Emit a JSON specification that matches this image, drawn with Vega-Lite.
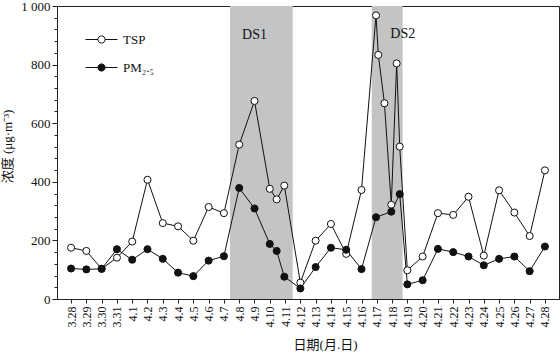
{
  "$schema": "https://vega.github.io/schema/vega-lite/v6.json",
  "width": 502,
  "height": 293,
  "autosize": {"type": "none"},
  "padding": {"left": 57, "top": 6, "right": 1, "bottom": 55},
  "background": "white",
  "config": {
    "font": "Liberation Serif",
    "view": {"stroke": "#222", "strokeWidth": 1},
    "axis": {
      "domainColor": "#222",
      "tickColor": "#222",
      "labelColor": "#111",
      "titleColor": "#111",
      "grid": false,
      "labelOverlap": false,
      "labelFont": "Liberation Serif",
      "titleFont": "Liberation Serif, Noto Sans CJK SC",
      "titleFontWeight": "normal"
    },
    "legend": {"labelFont": "Liberation Serif, DejaVu Serif"}
  },
  "data": {"values": [
      {"day": 0, "value": 175, "series": "TSP"},
      {"day": 1, "value": 164, "series": "TSP"},
      {"day": 2, "value": 103, "series": "TSP"},
      {"day": 3, "value": 141, "series": "TSP"},
      {"day": 4, "value": 196, "series": "TSP"},
      {"day": 5, "value": 407, "series": "TSP"},
      {"day": 6, "value": 259, "series": "TSP"},
      {"day": 7, "value": 248, "series": "TSP"},
      {"day": 8, "value": 199, "series": "TSP"},
      {"day": 9, "value": 314, "series": "TSP"},
      {"day": 10, "value": 293, "series": "TSP"},
      {"day": 11, "value": 527, "series": "TSP"},
      {"day": 12, "value": 676, "series": "TSP"},
      {"day": 13, "value": 376, "series": "TSP"},
      {"day": 13.45, "value": 340, "series": "TSP"},
      {"day": 13.95, "value": 387, "series": "TSP"},
      {"day": 15, "value": 56, "series": "TSP"},
      {"day": 16, "value": 199, "series": "TSP"},
      {"day": 17, "value": 256, "series": "TSP"},
      {"day": 18, "value": 154, "series": "TSP"},
      {"day": 19, "value": 372, "series": "TSP"},
      {"day": 19.95, "value": 968, "series": "TSP"},
      {"day": 20.1, "value": 833, "series": "TSP"},
      {"day": 20.5, "value": 668, "series": "TSP"},
      {"day": 20.95, "value": 322, "series": "TSP"},
      {"day": 21.3, "value": 804, "series": "TSP"},
      {"day": 21.5, "value": 520, "series": "TSP"},
      {"day": 22, "value": 98, "series": "TSP"},
      {"day": 23, "value": 145, "series": "TSP"},
      {"day": 24, "value": 293, "series": "TSP"},
      {"day": 25, "value": 287, "series": "TSP"},
      {"day": 26, "value": 349, "series": "TSP"},
      {"day": 27, "value": 148, "series": "TSP"},
      {"day": 28, "value": 371, "series": "TSP"},
      {"day": 29, "value": 295, "series": "TSP"},
      {"day": 30, "value": 215, "series": "TSP"},
      {"day": 31, "value": 439, "series": "TSP"},
      {"day": 0, "value": 104, "series": "PM2.5"},
      {"day": 1, "value": 101, "series": "PM2.5"},
      {"day": 2, "value": 103, "series": "PM2.5"},
      {"day": 3, "value": 170, "series": "PM2.5"},
      {"day": 4, "value": 134, "series": "PM2.5"},
      {"day": 5, "value": 170, "series": "PM2.5"},
      {"day": 6, "value": 137, "series": "PM2.5"},
      {"day": 7, "value": 90, "series": "PM2.5"},
      {"day": 8, "value": 78, "series": "PM2.5"},
      {"day": 9, "value": 131, "series": "PM2.5"},
      {"day": 10, "value": 146, "series": "PM2.5"},
      {"day": 11, "value": 379, "series": "PM2.5"},
      {"day": 12, "value": 309, "series": "PM2.5"},
      {"day": 13, "value": 188, "series": "PM2.5"},
      {"day": 13.45, "value": 164, "series": "PM2.5"},
      {"day": 13.95, "value": 76, "series": "PM2.5"},
      {"day": 15, "value": 36, "series": "PM2.5"},
      {"day": 16, "value": 109, "series": "PM2.5"},
      {"day": 17, "value": 175, "series": "PM2.5"},
      {"day": 18, "value": 168, "series": "PM2.5"},
      {"day": 19, "value": 102, "series": "PM2.5"},
      {"day": 19.95, "value": 279, "series": "PM2.5"},
      {"day": 20.95, "value": 298, "series": "PM2.5"},
      {"day": 21.5, "value": 358, "series": "PM2.5"},
      {"day": 22, "value": 50, "series": "PM2.5"},
      {"day": 23, "value": 64, "series": "PM2.5"},
      {"day": 24, "value": 171, "series": "PM2.5"},
      {"day": 25, "value": 160, "series": "PM2.5"},
      {"day": 26, "value": 145, "series": "PM2.5"},
      {"day": 27, "value": 115, "series": "PM2.5"},
      {"day": 28, "value": 137, "series": "PM2.5"},
      {"day": 29, "value": 145, "series": "PM2.5"},
      {"day": 30, "value": 95, "series": "PM2.5"},
      {"day": 31, "value": 179, "series": "PM2.5"}
  ]},
  "encoding": {
    "x": {
      "field": "day",
      "type": "quantitative",
      "scale": {"domain": [-0.92, 31.92], "nice": false, "zero": false},
      "axis": {
        "values": [0,1,2,3,4,5,6,7,8,9,10,11,12,13,14,15,16,17,18,19,20,21,22,23,24,25,26,27,28,29,30,31],
        "labelExpr": "datum.value < 4 ? '3.' + (28 + datum.value) : '4.' + (datum.value - 3)",
        "labelAngle": -90,
        "labelFontSize": 12,
        "labelOverlap": false,
        "labelFlush": false,
        "tickSize": 4,
        "labelPadding": 3,
        "title": "日期(月.日)",
        "titleFontSize": 13,
        "titleX": 268,
        "titleY": 45,
        "titleAlign": "center",
        "titleBaseline": "middle"
      }
    }
  },
  "layer": [
    {
      "data": {"values": [
        {"name": "DS1", "start": 10.4, "end": 14.5, "lx": 12.0, "ly": 900},
        {"name": "DS2", "start": 19.67, "end": 21.69, "lx": 21.7, "ly": 903}
      ]},
      "mark": {"type": "rect", "color": "#c4c4c4"},
      "encoding": {
        "x": {"field": "start", "type": "quantitative"},
        "x2": {"field": "end"}
      }
    },
    {
      "data": {"values": [
        {"name": "DS1", "start": 10.4, "end": 14.5, "lx": 12.0, "ly": 900},
        {"name": "DS2", "start": 19.67, "end": 21.69, "lx": 21.7, "ly": 903}
      ]},
      "mark": {"type": "text", "font": "Liberation Serif", "fontSize": 14, "color": "#111"},
      "encoding": {
        "x": {"field": "lx", "type": "quantitative"},
        "y": {
          "field": "ly",
          "type": "quantitative",
          "scale": {"domain": [0, 1000], "nice": false},
          "axis": {
            "values": [0,40,80,120,160,200,240,280,320,360,400,440,480,520,560,600,640,680,720,760,800,840,880,920,960,1000],
            "labelExpr": "datum.value % 200 === 0 ? (datum.value === 1000 ? '1 000' : datum.label) : ''",
            "labelFontSize": 13,
            "labelOverlap": false,
            "tickSize": {"condition": {"test": "datum.value % 200 === 0", "value": 5}, "value": 3},
            "labelPadding": 2,
            "title": "浓度 (μg·m⁻³)",
            "titleFontSize": 13,
            "titleAngle": 270,
            "titleX": -50,
            "titleY": 140,
            "titleAlign": "center",
            "titleBaseline": "middle"
          }
        },
        "text": {"field": "name"}
      }
    },
    {
      "mark": {"type": "line", "color": "#111", "strokeWidth": 1},
      "encoding": {
        "y": {
          "field": "value",
          "type": "quantitative",
          "scale": {"domain": [0, 1000], "nice": false},
          "axis": {
            "values": [0,40,80,120,160,200,240,280,320,360,400,440,480,520,560,600,640,680,720,760,800,840,880,920,960,1000],
            "labelExpr": "datum.value % 200 === 0 ? (datum.value === 1000 ? '1 000' : datum.label) : ''",
            "labelFontSize": 13,
            "labelOverlap": false,
            "tickSize": {"condition": {"test": "datum.value % 200 === 0", "value": 5}, "value": 3},
            "labelPadding": 2,
            "title": "浓度 (μg·m⁻³)",
            "titleFontSize": 13,
            "titleAngle": 270,
            "titleX": -50,
            "titleY": 140,
            "titleAlign": "center",
            "titleBaseline": "middle"
          }
        },
        "detail": {"field": "series"}
      }
    },
    {
      "mark": {"type": "point", "shape": "circle", "filled": true, "stroke": "#111", "strokeWidth": 1, "size": 50, "opacity": 1},
      "encoding": {
        "y": {
          "field": "value",
          "type": "quantitative",
          "scale": {"domain": [0, 1000], "nice": false},
          "axis": {
            "values": [0,40,80,120,160,200,240,280,320,360,400,440,480,520,560,600,640,680,720,760,800,840,880,920,960,1000],
            "labelExpr": "datum.value % 200 === 0 ? (datum.value === 1000 ? '1 000' : datum.label) : ''",
            "labelFontSize": 13,
            "labelOverlap": false,
            "tickSize": {"condition": {"test": "datum.value % 200 === 0", "value": 5}, "value": 3},
            "labelPadding": 2,
            "title": "浓度 (μg·m⁻³)",
            "titleFontSize": 13,
            "titleAngle": 270,
            "titleX": -50,
            "titleY": 140,
            "titleAlign": "center",
            "titleBaseline": "middle"
          }
        },
        "fill": {
          "field": "series",
          "type": "nominal",
          "scale": {"domain": ["TSP", "PM2.5"], "range": ["white", "#111"]},
          "legend": {
            "title": null,
            "orient": "none",
            "legendX": 36,
            "legendY": 25,
            "symbolType": "M-2,0H-0.45M0.45,0H2M0.45,0A0.45,0.45,0,1,1,-0.45,0A0.45,0.45,0,1,1,0.45,0",
            "symbolSize": 256,
            "symbolStrokeColor": "#111",
            "symbolStrokeWidth": 1,
            "labelFontSize": 13,
            "labelOffset": 13,
            "rowPadding": 12,
            "labelColor": "#111",
            "labelExpr": "datum.label == 'PM2.5' ? 'PM₂.₅' : datum.label"
          }
        }
      }
    }
  ]
}
